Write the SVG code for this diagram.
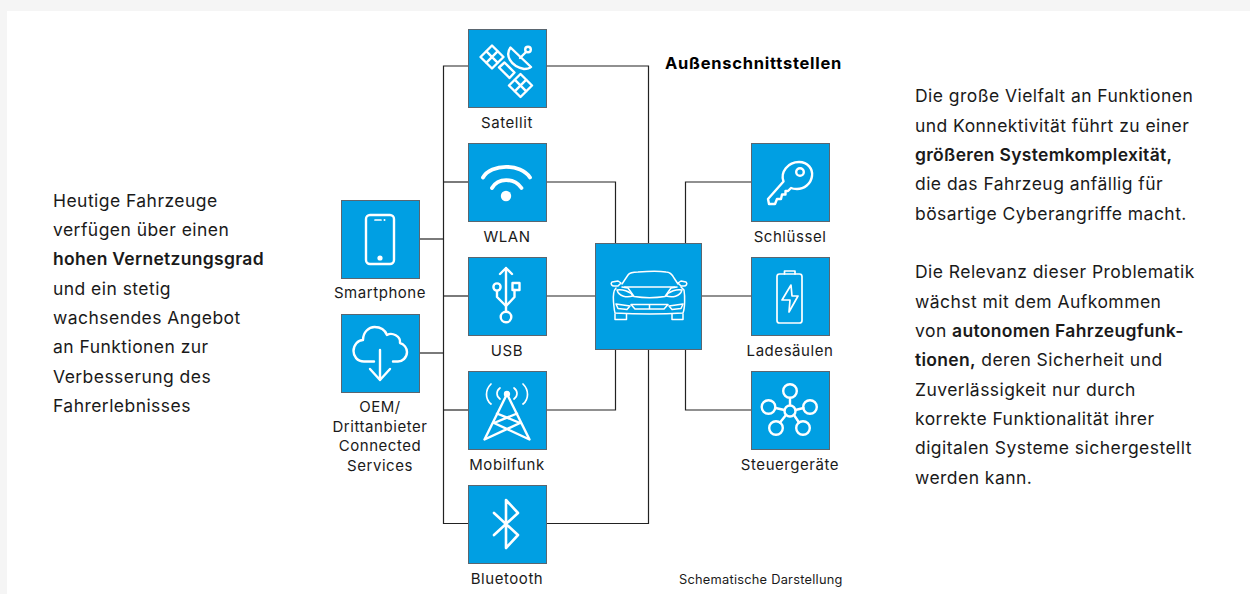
<svg xmlns="http://www.w3.org/2000/svg" width="1250" height="594" viewBox="0 0 1250 594">
<style>
text{font-family:Inter,"Liberation Sans",Arial,sans-serif;fill:#1a1a1a}
.b{font-size:17.500px;letter-spacing:.45px}
.c{font-size:15px;letter-spacing:.55px;text-anchor:middle}
.s{font-weight:600;letter-spacing:.3px}
.box{fill:#009fe3;stroke:#5a6670;stroke-width:1}
.w{fill:none;stroke:#fff;stroke-width:2.400;stroke-linecap:round;stroke-linejoin:round}
.t{stroke-width:1.500}
.f{fill:#fff;stroke:none}
#connectors path{fill:none;stroke:#222;stroke-width:1.200}
</style>
<rect width="1250" height="594" fill="#f5f5f5"/>
<rect x="7" y="11" width="1243" height="583" fill="#fff"/>
<g id="connectors">
<path d="M468 66H443.500V523.500H468"/>
<path d="M443.500 182H468"/>
<path d="M443.500 296H468"/>
<path d="M443.500 410H468"/>
<path d="M419 239H443.500"/>
<path d="M419 353H443.500"/>
<path d="M546 66H648.500V243"/>
<path d="M546 182H615.500V243"/>
<path d="M546 296H595"/>
<path d="M546 410H615.500V349"/>
<path d="M546 523.500H648.500V349"/>
<path d="M685.500 243V182H751"/>
<path d="M702 296H751"/>
<path d="M685.500 349V410H751"/>
</g>
<g id="satellit">
<rect class="box" x="468.500" y="29.500" width="78" height="78"/>
<g class="w">
<path d="M480.500 57L492 45.500L503.500 57L492 68.500Z M486.200 51.200L497.800 62.800 M497.800 51.200L486.200 62.800"/>
<path d="M509 85.500L520.500 74L532 85.500L520.500 97Z M514.700 79.700L526.300 91.300 M526.300 79.700L514.700 91.300"/>
<path d="M499 67.500L504.500 62.500L514.500 72.500L509.500 78Z"/>
<path d="M510.500 47.500C505 55 510 66 524 69C528 69 530 68 531 67Z"/>
<path d="M520 58L526 52"/>
<circle cx="528" cy="49.500" r="2.800"/>
</g>
<text class="c" x="507" y="128">Satellit</text>
</g>
<g id="wlan">
<rect class="box" x="468.500" y="143.500" width="78" height="78"/>
<path d="M483 177.500C491 163.300 521 163.300 530 177.500" class="w" style="stroke-width:3.800"/>
<path d="M492 188C498 177.500 514 177.500 521.500 188" class="w" style="stroke-width:3.800"/>
<circle class="f" cx="506" cy="196" r="5.200"/>
<text class="c" x="507" y="242">WLAN</text>
</g>
<g id="usb">
<rect class="box" x="468.500" y="257.500" width="78" height="78"/>
<g class="w">
<path d="M506 268V311.500 M500 274L506 268L512 274"/>
<circle cx="506" cy="317" r="5.300"/>
<path d="M497 291V297L506 306 M514.500 290V297L506 306"/>
<circle cx="497" cy="287" r="3.600"/>
<rect x="512.500" y="283" width="7" height="7"/>
</g>
<text class="c" x="507" y="356">USB</text>
</g>
<g id="mobilfunk">
<rect class="box" x="468.500" y="371.500" width="78" height="78"/>
<g class="w">
<path d="M507 394L484.500 439.500L520 423L497 413.500 M507 394L529.500 439.500L494 423L517 413.500"/>
<path d="M491 384C485 390 485 399 491 404 M500 388C496 391 496 396 500 399 M523 384C529 390 529 399 523 404 M514 388C518 391 518 396 514 399" style="stroke-width:1.700"/>
</g>
<circle class="f" cx="507" cy="394" r="3.200"/>
<text class="c" x="507" y="470">Mobilfunk</text>
</g>
<g id="bluetooth">
<rect class="box" x="468.500" y="485.500" width="78" height="78"/>
<path class="w" d="M494 513L518 535L506 548V500L518 513L494 535" style="stroke-width:2.600"/>
<text class="c" x="507" y="584">Bluetooth</text>
</g>
<g id="smartphone">
<rect class="box" x="341.500" y="200.500" width="78" height="78"/>
<rect class="w" x="366" y="215" width="28" height="49" rx="4"/>
<path class="w" d="M375 220H381" style="stroke-width:1.700"/>
<circle class="f" cx="384.500" cy="220" r="1"/>
<circle class="f" cx="380" cy="258" r="2.600"/>
<text class="c" x="380" y="298">Smartphone</text>
</g>
<g id="oem">
<rect class="box" x="341.500" y="314.500" width="78" height="78"/>
<g class="w">
<path d="M374 361.500H364C357 361.500 353.500 356 353.500 351C353.500 345 358 340 363 340C363 332 369 327 374.500 327C380 327 385 330 387 335C392 332 401 336 400 343C404 344 407 348 407 352C407 358 402 361.500 398 361.500H393"/>
<path d="M380 350V380 M370 369L380 380L390 369"/>
</g>
<text class="c"><tspan x="380" y="412">OEM/</tspan><tspan x="380" y="431.500">Drittanbieter</tspan><tspan x="380" y="451">Connected</tspan><tspan x="380" y="470.500">Services</tspan></text>
</g>
<g id="fahrzeug">
<rect class="box" x="595.500" y="243.500" width="106" height="106"/>
<g class="w t">
<path d="M622 284L628 275C630 272 634 272 638 272C650 271 660 271 666 272C670 272 672 274 674 278L678 284"/>
<path d="M624.500 287H675"/>
<path d="M616 288C613 291 613 296 613.500 302C614 306 614 310 615 313C635 314 665 314 683 313C685 308 685 296 684 290L681 287"/>
<path d="M622 287L628 288L634 296.500C644 298 655 298 665 296.500L671 288L677 287"/>
<path d="M617 290C622 289 630 291 633 296C627 297.500 619 297 617 290Z M682 290C677 289 669 291 666 296C672 297.500 680 297 682 290Z"/>
<path d="M616 304L630 306L627 309.500L618 308.500Z M683 304L669 306L672 309.500L681 308.500Z M631 304.500H668L664 309H635Z M649.500 304.500V309"/>
<path d="M615 314V319.500H626.500V314 M672 314V319.500H683V314"/>
<path d="M618 281L612 282C610 284 612 286 614 286H618L621 283Z M681 281L686 282C688 284 686 286 684 286H681L678 283Z"/>
</g>
</g>
<g id="schluessel">
<rect class="box" x="751.500" y="143.500" width="78" height="78"/>
<g class="w">
<path d="M783.500 181.500C780 172 788 162 799 162C808 162 813 169 812 176C811 184 804 189 797 189C795 189 793 189 791 188L788 191H785.500V194.500H782L781 199H777L775 204H769L768 199Z"/>
<circle cx="800" cy="172" r="3.800"/>
</g>
<text class="c" x="790" y="242">Schlüssel</text>
</g>
<g id="ladesaeulen">
<rect class="box" x="751.500" y="257.500" width="78" height="78"/>
<g class="w" style="stroke-width:1.700">
<rect x="777" y="274" width="25" height="49" rx="2.500"/>
<path d="M784.500 274V271H795V274"/>
<path d="M791 285L782 300H790L789 312L798 296H792Z"/>
</g>
<text class="c" x="790" y="356">Ladesäulen</text>
</g>
<g id="steuergeraete">
<rect class="box" x="751.500" y="371.500" width="78" height="78"/>
<g class="w">
<circle cx="790" cy="411" r="5.500"/>
<circle cx="790" cy="391" r="6.800"/>
<circle cx="768.500" cy="407" r="6.800"/>
<circle cx="810" cy="407" r="6.800"/>
<circle cx="776" cy="428" r="6.800"/>
<circle cx="803" cy="428" r="6.800"/>
<path d="M790 398V405 M775.500 408L784.500 410 M803.500 408L795.500 410 M780 422.500L786 415 M799 422.500L794 415"/>
</g>
<text class="c" x="790" y="470">Steuergeräte</text>
</g>
<text x="665" y="69" style="font-size:16.500px;font-weight:700;letter-spacing:.75px;fill:#000">Außenschnittstellen</text>
<text x="679" y="584" style="font-size:12.800px;letter-spacing:.25px">Schematische Darstellung</text>
<g class="b">
<text x="53" y="207">Heutige Fahrzeuge</text>
<text x="53" y="236">verfügen über einen</text>
<text x="53" y="265" class="s">hohen Vernetzungsgrad</text>
<text x="53" y="295">und ein stetig</text>
<text x="53" y="324">wachsendes Angebot</text>
<text x="53" y="353">an Funktionen zur</text>
<text x="53" y="383">Verbesserung des</text>
<text x="53" y="412">Fahrerlebnisses</text>
<text x="915" y="102">Die große Vielfalt an Funktionen</text>
<text x="915" y="132">und Konnektivität führt zu einer</text>
<text x="915" y="161" class="s">größeren Systemkomplexität,</text>
<text x="915" y="190">die das Fahrzeug anfällig für</text>
<text x="915" y="220">bösartige Cyberangriffe macht.</text>
<text x="915" y="278">Die Relevanz dieser Problematik</text>
<text x="915" y="308">wächst mit dem Aufkommen</text>
<text x="915" y="337">von <tspan class="s">autonomen Fahrzeugfunk-</tspan></text>
<text x="915" y="366"><tspan class="s">tionen,</tspan> deren Sicherheit und</text>
<text x="915" y="396">Zuverlässigkeit nur durch</text>
<text x="915" y="425">korrekte Funktionalität ihrer</text>
<text x="915" y="454">digitalen Systeme sichergestellt</text>
<text x="915" y="484">werden kann.</text>
</g>
</svg>
